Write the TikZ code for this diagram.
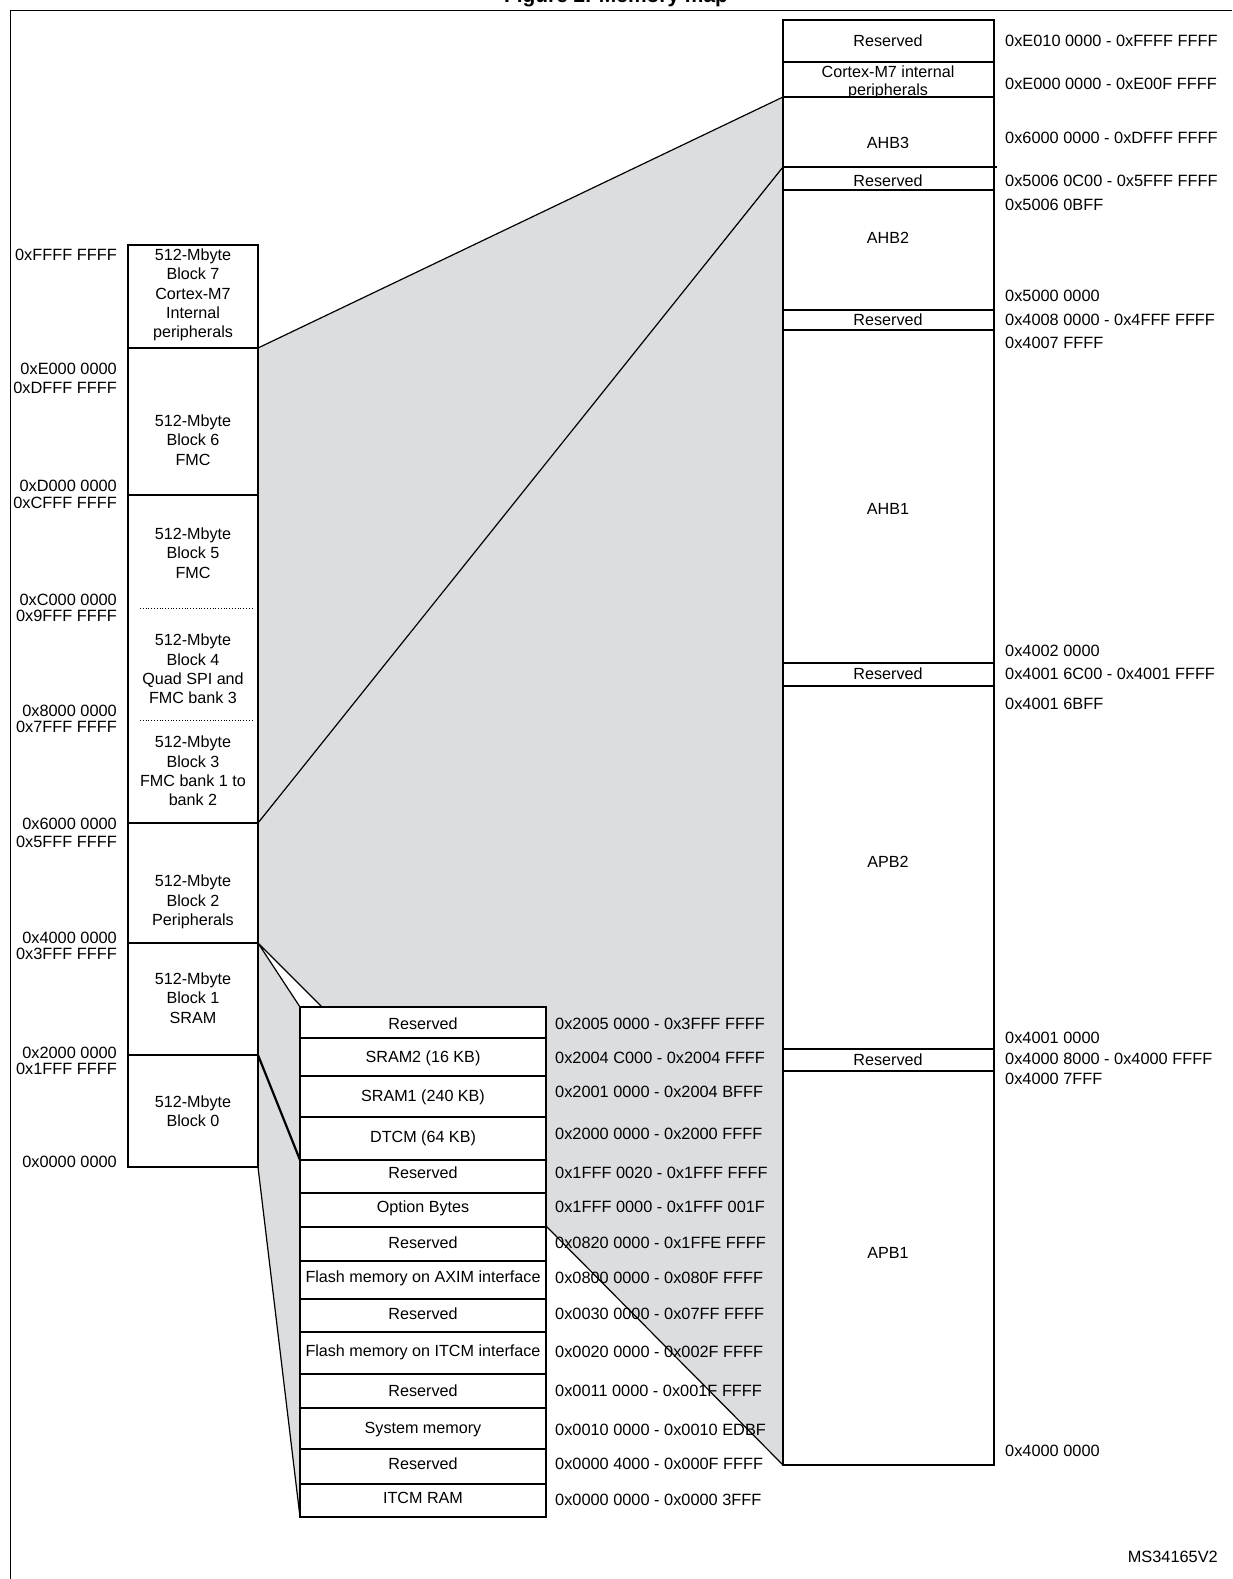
\documentclass[tikz,border=0pt]{standalone}
\usepackage{fontspec}
\setmainfont{Liberation Sans}
\definecolor{zoomgrey}{HTML}{DCDDDF}
\tikzset{
    box/.style={draw, line width=2.2bp},
    sep/.style={line width=1.2bp},
    txt/.style={font=\fontsize{16.2}{19.3}\selectfont, align=center, inner sep=0pt},
    adr/.style={font=\fontsize{16.4}{18}\selectfont, inner sep=0pt},
}
\begin{document}
\begin{tikzpicture}[x=1bp,y=-1bp]
    \useasboundingbox (0,0) rectangle (1232,1579);

    % frame and title
    \draw[thin] (10,1579) -- (10,10) -- (1232,10);
    \node[font=\bfseries\fontsize{21}{24}\selectfont, anchor=base] (title) at (616,3) {Figure 2. Memory map};
    \node[adr, anchor=east] (ref) at (1218,1557) {MS34165V2};

    % grey zoom area
    \fill[zoomgrey] (258,348) -- (783,97) -- (783,1465) -- (546,1226) -- (546,1007)
        -- (322,1007) -- (258,943) -- (300,1007) -- (300,1517) -- (258,1167) -- cycle;

    % zoom lines
    \coordinate (l7) at (258,348);
    \coordinate (l3) at (258,823);
    \coordinate (l2) at (258,943);
    \coordinate (l1) at (258,1055);
    \coordinate (l0) at (258,1167);
    \coordinate (rtop) at (783,97);
    \coordinate (rres) at (783,167);
    \coordinate (rbot) at (783,1465);
    \coordinate (stop) at (300,1007);
    \coordinate (stop2) at (322,1007);
    \coordinate (smid) at (300,1160);
    \coordinate (sbot) at (300,1517);
    \coordinate (sopt) at (546,1226);
    \draw[sep] (l7) -- (rtop);
    \draw[sep] (l3) -- (rres);
    \draw[sep] (l2) -- (stop) (l2) -- (stop2);
    \draw[line width=2.2bp] (l1) -- (smid);
    \draw[sep] (l0) -- (sbot);

    % Left column: 512-Mbyte blocks
    \fill[white] (128,245) rectangle (258,1167);
    \foreach \y in {348,495,823,943,1055} \draw[sep] (128,\y) -- (258,\y);
    \foreach \y in {608,720} \draw[thick, dotted] (140,\y) -- (254,\y);
    \draw[box] (128,245) rectangle (258,1167);

    \node[txt] (b7) at (193,295) {512-Mbyte\\Block 7\\Cortex-M7\\Internal\\peripherals};
    \node[txt] (b6) at (193,440) {512-Mbyte\\Block 6\\FMC};
    \node[txt] (b5) at (193,553) {512-Mbyte\\Block 5\\FMC};
    \node[txt] (b4) at (193,669) {512-Mbyte\\Block 4\\Quad SPI and\\FMC bank 3};
    \node[txt] (b3) at (193,771) {512-Mbyte\\Block 3\\FMC bank 1 to\\bank 2};
    \node[txt] (b2) at (193,902) {512-Mbyte\\Block 2\\Peripherals};
    \node[txt] (b1) at (193,998) {512-Mbyte\\Block 1\\SRAM};
    \node[txt] (b0) at (193,1111) {512-Mbyte\\Block 0};

    \foreach \y/\t [count=\i] in {255/0xFFFF FFFF, 369/0xE000 0000, 388/0xDFFF FFFF,
        486/0xD000 0000, 503/0xCFFF FFFF, 600/0xC000 0000, 616/0x9FFF FFFF,
        711/0x8000 0000, 727/0x7FFF FFFF, 824/0x6000 0000, 842/0x5FFF FFFF,
        938/0x4000 0000, 954/0x3FFF FFFF, 1053/0x2000 0000, 1069/0x1FFF FFFF,
        1162/0x0000 0000}
        \node[adr, anchor=east] (la\i) at (117,\y) {\t};

    % Right column: peripheral buses
    \fill[white] (783,20) rectangle (994,1465);
    \foreach \y in {62,190,310,330,663,686,1049,1071} \draw[sep] (783,\y) -- (994,\y);
    \draw[sep] (783,167) -- (997,167);

    \foreach \y/\t [count=\i] in {41/Reserved, 143/AHB3, 181/Reserved, 238/AHB2,
        320/Reserved, 509/AHB1, 674/Reserved, 862/APB2, 1060/Reserved, 1253/APB1}
        \node[txt] (r\i) at (888,\y) {\t};
    \node[txt] (rcm7) at (888,72) {Cortex-M7 internal};
    \begin{scope}
        \clip (783,62) rectangle (994,97);
        \node[txt] (rcm7b) at (888,91) {peripherals};
    \end{scope}
    \draw[sep] (783,97) -- (994,97);
    \draw[box] (783,20) rectangle (994,1465);

    \foreach \y/\t [count=\i] in {41/0xE010 0000 - 0xFFFF FFFF, 84/0xE000 0000 - 0xE00F FFFF,
        138/0x6000 0000 - 0xDFFF FFFF, 181/0x5006 0C00 - 0x5FFF FFFF, 205/0x5006 0BFF,
        296/0x5000 0000, 320/0x4008 0000 - 0x4FFF FFFF, 343/0x4007 FFFF,
        651/0x4002 0000, 674/0x4001 6C00 - 0x4001 FFFF, 704/0x4001 6BFF,
        1038/0x4001 0000, 1059/0x4000 8000 - 0x4000 FFFF, 1079/0x4000 7FFF,
        1451/0x4000 0000}
        \node[adr, anchor=west] (ra\i) at (1005,\y) {\t};

    % Small box: SRAM and flash
    \fill[white] (300,1007) rectangle (546,1517);
    \foreach \y in {1038,1076,1117,1193,1227,1261,1299,1332,1374,1408,1449,1484}
        \draw[sep] (300,\y) -- (546,\y);
    \draw[box] (300,1007) rectangle (546,1160);
    \draw[box] (300,1160) rectangle (546,1517);

    \foreach \y/\t [count=\i] in {1024/Reserved, 1058/SRAM2 (16 KB), 1097/SRAM1 (240 KB),
        1138/DTCM (64 KB), 1173/Reserved, 1208/Option Bytes, 1243/Reserved,
        1278/Flash memory on AXIM interface, 1314/Reserved, 1352/Flash memory on ITCM interface,
        1391/Reserved, 1430/System memory, 1464/Reserved, 1498/ITCM RAM}
        \node[txt] (s\i) at (423,\y) {\t};

    \foreach \y/\t [count=\i] in {1024/0x2005 0000 - 0x3FFF FFFF, 1058/0x2004 C000 - 0x2004 FFFF,
        1092/0x2001 0000 - 0x2004 BFFF, 1134/0x2000 0000 - 0x2000 FFFF,
        1173/0x1FFF 0020 - 0x1FFF FFFF, 1207/0x1FFF 0000 - 0x1FFF 001F,
        1243/0x0820 0000 - 0x1FFE FFFF, 1278/0x0800 0000 - 0x080F FFFF,
        1314/0x0030 0000 - 0x07FF FFFF, 1352/0x0020 0000 - 0x002F FFFF,
        1391/0x0011 0000 - 0x001F FFFF, 1430/0x0010 0000 - 0x0010 EDBF,
        1464/0x0000 4000 - 0x000F FFFF, 1500/0x0000 0000 - 0x0000 3FFF}
        \node[adr, anchor=west] (sa\i) at (555,\y) {\t};
    \draw[sep] (sopt) -- (rbot);
\end{tikzpicture}
\end{document}
